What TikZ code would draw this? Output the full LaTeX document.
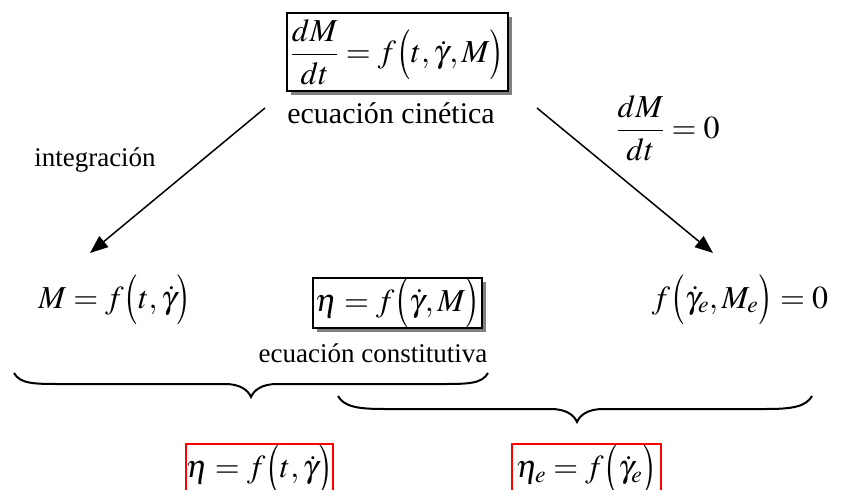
\documentclass[tikz,border=0pt]{standalone}
\usepackage{amsmath}
\usepackage{graphicx}
\usepackage{mathptmx}
\usepackage[no-math]{fontspec}
\setmainfont{Liberation Serif}
\usetikzlibrary{arrows.meta,shadows}
\newcommand{\myLP}{\mathopen{\vcenter{\hbox{\scalebox{1}[1.3]{$\bigl($}}}}}
\newcommand{\myRP}{\mathclose{\vcenter{\hbox{\scalebox{1}[1.3]{$\bigr)$}}}}}
\begin{document}
\begin{tikzpicture}[x=1pt,y=-1pt,
  every node/.style={inner sep=0pt},
  txt/.style={font=\fontsize{27}{32}\selectfont},
  mth/.style={font=\fontsize{32}{38}\selectfont},
  shbox/.style={draw=black, line width=1.5pt, fill=white,
    drop shadow={shadow xshift=4pt, shadow yshift=-4pt, fill=black!50, opacity=1}},
  redbox/.style={draw=red, line width=1.5pt, text height=24pt, text depth=10pt},
  arr/.style={line width=1.5pt, -{Triangle[length=18pt,width=14pt]}},
  bracepath/.style={line width=2pt}]
\useasboundingbox (0,0) rectangle (847,490);
\clip (0,0) rectangle (847,490);

% top kinetic equation
\node[mth, shbox, minimum width=221pt, minimum height=78pt] (top) at (397.5,52)
  {$\dfrac{dM}{dt} = f\myLP t,\dot\gamma,M\myRP$};
\node[txt, font=\fontsize{30}{34}\selectfont] (cin) at (391,113) {ecuación cinética};
\node[txt] (integ) at (95,160) {integración};
\node[mth] (zero) at (668,128) {$\dfrac{dM}{dt} = 0$};

% arrows
\coordinate (la1) at (265,108);
\coordinate (la2) at (90,253);
\coordinate (ra1) at (537,108);
\coordinate (ra2) at (713,253);
\draw[arr] (la1) -- (la2);
\draw[arr] (ra1) -- (ra2);

% middle row
\node[mth] (mint) at (115,300) {$M = f\myLP t,\dot\gamma\myRP$};
\node[mth, shbox, minimum width=169pt, minimum height=40pt] (const) at (397.5,303)
  {$\eta = f\myLP\dot\gamma,M\myRP$};
\node[mth] (equil) at (740,300) {$f\myLP\dot\gamma_e,M_e\myRP = 0$};
\node[txt] (ccon) at (373,353) {ecuación constitutiva};

% braces
\draw[bracepath] (14,373) .. controls (20,384) and (35,384) .. (60,384) -- (225,384)
  .. controls (240,384) and (248,390) .. (251,397)
  .. controls (254,390) and (262,384) .. (277,384) -- (442,384)
  .. controls (467,384) and (482,384) .. (488,373);
\draw[bracepath] (338,396) .. controls (344,407) and (359,409) .. (384,409) -- (551,409)
  .. controls (566,409) and (574,415) .. (577,422)
  .. controls (580,415) and (588,409) .. (603,409) -- (766,409)
  .. controls (791,409) and (806,407) .. (812,396);

% results
\node[mth, redbox, minimum width=145pt, minimum height=54pt, anchor=north] (res1) at (259.5,443)
  {$\eta = f\myLP t,\dot\gamma\myRP$};
\node[mth, redbox, minimum width=149pt, minimum height=54pt, anchor=north] (res2) at (586.5,443)
  {$\eta_e = f\myLP\dot\gamma_e\myRP$};
\end{tikzpicture}
\end{document}
